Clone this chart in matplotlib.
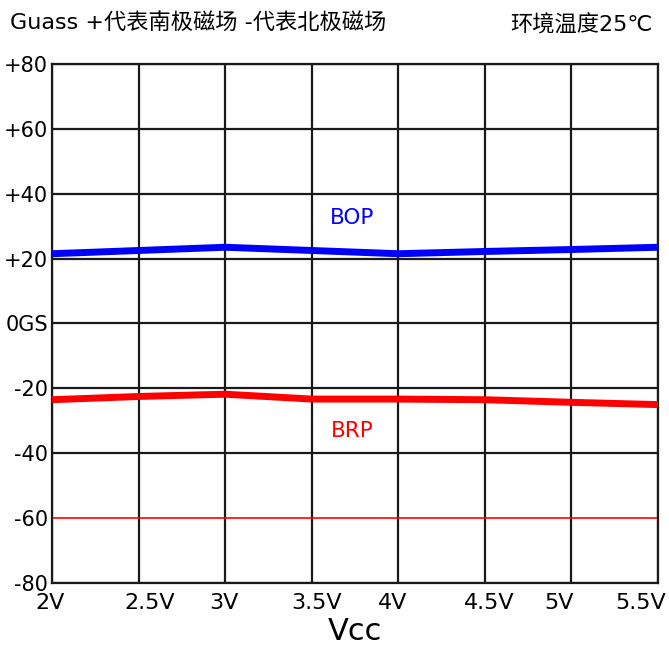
import matplotlib.pyplot as plt
import matplotlib.transforms as mtransforms

plt.rcParams['font.family'] = ['DejaVu Sans', 'Noto Sans CJK SC']

vcc = ["2V", "2.5V", "3V", "3.5V", "4V", "4.5V", "5V", "5.5V"]
bop = [21.5, 22.5, 23.5, 22.5, 21.5, 22.2, 22.8, 23.5]
brp = [-23.5, -22.5, -21.8, -23.3, -23.3, -23.5, -24.3, -25.0]
y_ticks = [80, 60, 40, 20, 0, -20, -40, -60, -80]
y_labels = ["+80", "+60", "+40", "+20", "0GS", "-20", "-40", "-60", "-80"]
# small sideways shift of each x label (pixels), as in the original
x_shift = [-2, 11, -1, 5, -6, 4, -12, -17]

fig = plt.figure(figsize=(6.69, 6.46), dpi=100)
ax = fig.add_axes([0.0777, 0.0975, 0.9058, 0.8035])

x = list(range(len(vcc)))
ax.set_xlim(0, len(vcc) - 1)
ax.set_ylim(-80, 80)

# grid
for xi in x:
    ax.axvline(xi, color="#1a1a1a", lw=1.6, zorder=1)
for yv in y_ticks:
    if yv == -60:
        ax.axhline(yv, color="red", lw=1.2, zorder=1)
    else:
        ax.axhline(yv, color="#1a1a1a", lw=1.6, zorder=1)

ax.plot(x, bop, color="#0000ff", lw=5, solid_capstyle="butt", zorder=3)
ax.plot(x, brp, color="#ff0000", lw=5, solid_capstyle="butt", zorder=3)

ax.text(3.47, 32.5, "BOP", color="#0000ff", fontsize=15.5, ha="center", va="center")
ax.text(3.47, -33, "BRP", color="#ff0000", fontsize=15.5, ha="center", va="center")

for s in ax.spines.values():
    s.set_color("#1a1a1a")
    s.set_linewidth(1.6)

ax.set_yticks(y_ticks)
ax.set_yticklabels(y_labels, fontsize=15)
ax.set_xticks(x)
ax.set_xticklabels(vcc, fontsize=16)
ax.tick_params(axis="y", length=0, pad=3)
ax.tick_params(axis="x", length=0, pad=7)
for lab, dx in zip(ax.get_xticklabels(), x_shift):
    lab.set_transform(lab.get_transform() + mtransforms.ScaledTranslation(dx / 100, 0, fig.dpi_scale_trans))

ax.set_xlabel("Vcc", fontsize=22, labelpad=3)

fig.text(0.015, 0.965, "Guass +代表南极磁场 -代表北极磁场", fontsize=16, va="center", ha="left")
fig.text(0.975, 0.962, "环境温度25℃", fontsize=16, va="center", ha="right")

fig.savefig("out.png", dpi=100)
